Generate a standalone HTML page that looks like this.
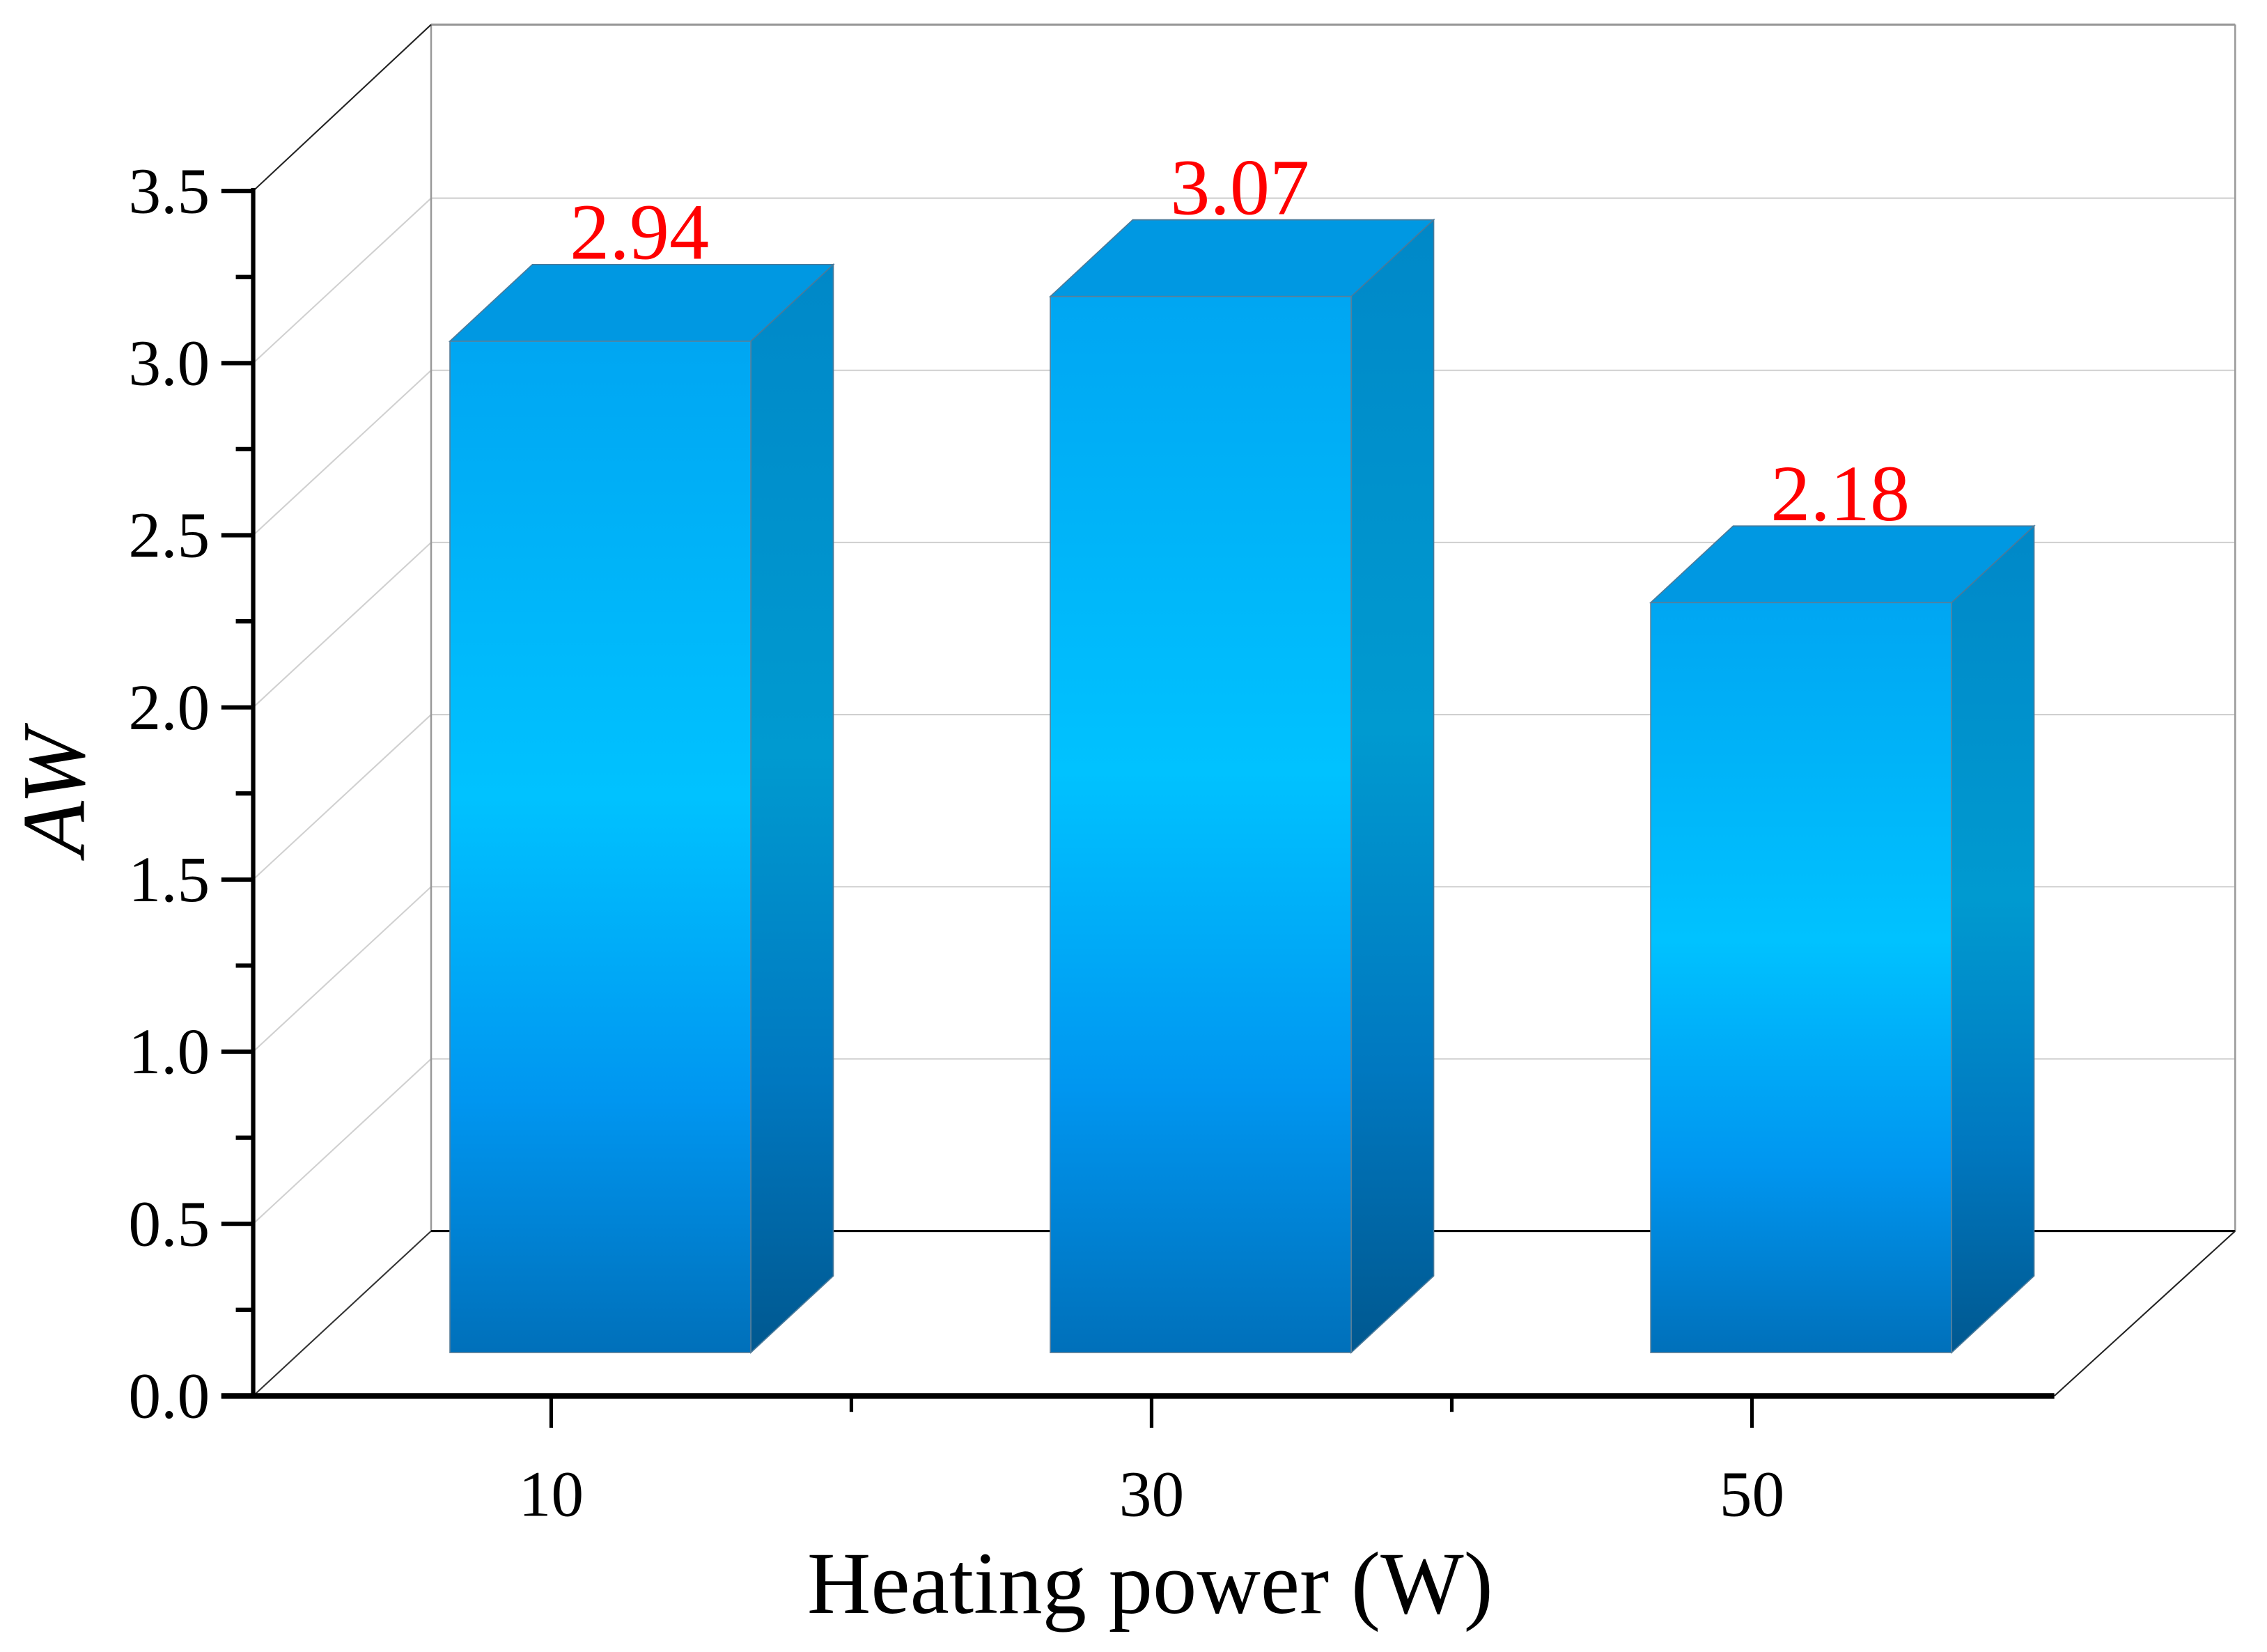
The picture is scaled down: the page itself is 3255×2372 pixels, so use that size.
<!DOCTYPE html>
<html><head><meta charset="utf-8"><style>html,body{margin:0;padding:0;background:#fff}svg{display:block}</style></head>
<body>
<svg id="chart" width="3255" height="2372" viewBox="0 0 1567 1142" preserveAspectRatio="none" xmlns="http://www.w3.org/2000/svg">
<defs>
<linearGradient id="gFront" x1="0" y1="0" x2="0" y2="1">
<stop offset="0" stop-color="#00a6f2"/><stop offset="0.45" stop-color="#00c2ff"/><stop offset="0.75" stop-color="#0096f0"/><stop offset="1" stop-color="#0070ba"/></linearGradient>
<linearGradient id="gSide" x1="0" y1="0" x2="0" y2="1">
<stop offset="0" stop-color="#0088c8"/><stop offset="0.45" stop-color="#009ad0"/><stop offset="0.75" stop-color="#0078c0"/><stop offset="1" stop-color="#005890"/></linearGradient>
</defs>
<g id="grid"></g>
<g id="frame"></g>
<g id="bars"></g>
<g id="labels"></g>
</svg>
<script>
const categories = ["10", "30", "50"];
const values = [2.94, 3.07, 2.18];
const valueLabels = ["2.94", "3.07", "2.18"];
const yTicks = [0, 0.5, 1.0, 1.5, 2.0, 2.5, 3.0, 3.5];
const yTickLabels = ["0.0", "0.5", "1.0", "1.5", "2.0", "2.5", "3.0", "3.5"];

const NS = "http://www.w3.org/2000/svg";
const yFront = v => 965 - v * 238;
const yBack = v => 851 - v * 238;
const yBar = v => 935 - v * 237.8;
const xCat = i => 381 + i * 415;
const BW = 208, DX = 57, DY = 53;
function mk(tag, attrs, parent) {
  const e = document.createElementNS(NS, tag);
  for (const k in attrs) e.setAttribute(k, attrs[k]);
  parent.appendChild(e); return e;
}
const grid = document.getElementById('grid');
const frame = document.getElementById('frame');
const bars = document.getElementById('bars');
const labels = document.getElementById('labels');

yTicks.forEach((v, i) => {
  if (v > 0 && v < 3.5) {
    const h = mk('line', {x1: 298, x2: 1545, y1: yBack(v), y2: yBack(v), stroke: '#cfcfcf', 'stroke-width': 1}, grid);
    
    
    const d = mk('line', {x1: 175, y1: yFront(v), x2: 298, y2: yBack(v), stroke: '#d0d0d0', 'stroke-width': 1}, grid);
    
    
  }
  const t = mk('line', {x1: 153, x2: 175, y1: yFront(v), y2: yFront(v), stroke: '#000', 'stroke-width': 3}, frame);
  
  
  const tl = mk('text', {x: 145, y: yFront(v) + 15, 'text-anchor': 'end', 'font-size': 45, 'font-family': '"Liberation Serif", serif', fill: '#000'}, labels);
  tl.textContent = yTickLabels[i];
  
  
  if (i < yTicks.length - 1) {
    const mv = v + 0.25;
    const m = mk('line', {x1: 163, x2: 175, y1: yFront(mv), y2: yFront(mv), stroke: '#000', 'stroke-width': 3}, frame);
    
    
  }
});
// frame
[[298,17,1545,17,'#999',1.5],[298,17,298,851,'#999',1.2],[1545,17,1545,851,'#999',1.2],[298,851,1545,851,'#000',1.5],
 [175,132,298,17,'#222',1],[175,965,298,851,'#333',1],[1420,965,1545,851,'#222',1],
 [175,130,175,967,'#000',3],[153,965,1420,965,'#000',4]].forEach(a => {
  const l = mk('line', {x1:a[0],y1:a[1],x2:a[2],y2:a[3],stroke:a[4],'stroke-width':a[5]}, frame);
  
  
});
categories.forEach((c, i) => {
  const x = xCat(i);
  const t = mk('line', {x1: x, x2: x, y1: 965, y2: 987, stroke: '#000', 'stroke-width': 2.5}, frame);
  
  
  if (i < categories.length - 1) {
    const m = mk('line', {x1: x + 207.5, x2: x + 207.5, y1: 965, y2: 976, stroke: '#000', 'stroke-width': 2.5}, frame);
    
    
  }
  const tl = mk('text', {x: x, y: 1048, 'text-anchor': 'middle', 'font-size': 45, 'font-family': '"Liberation Serif", serif'}, labels);
  tl.textContent = c;
  
  

  const x0 = x - 70, top = yBar(values[i]), bot = 935;
  const side = mk('polygon', {points: `${x0+BW},${top} ${x0+BW+DX},${top-DY} ${x0+BW+DX},${bot-DY} ${x0+BW},${bot}`, fill: 'url(#gSide)', stroke: '#4a7a9a', 'stroke-width': 0.8}, bars);
  
  
  const tp = mk('polygon', {points: `${x0},${top} ${x0+DX},${top-DY} ${x0+BW+DX},${top-DY} ${x0+BW},${top}`, fill: '#0098e2', stroke: '#4a7a9a', 'stroke-width': 0.8}, bars);
  
  
  const fr = mk('rect', {x: x0, y: top, width: BW, height: bot - top, fill: 'url(#gFront)', stroke: '#5a7f99', 'stroke-width': 0.8}, bars);
  
  
  const vl = mk('text', {x: x + 61, y: top - DY - 4, 'text-anchor': 'middle', 'font-size': 55, 'font-family': '"Liberation Serif", serif', fill: '#ff0000'}, labels);
  vl.textContent = valueLabels[i];
  
  
});
const xt = mk('text', {x: 795, y: 1115, 'text-anchor': 'middle', 'font-size': 61, 'font-family': '"Liberation Serif", serif'}, labels);
xt.textContent = 'Heating power (W)';


const yt = mk('text', {x: 0, y: 0, transform: 'translate(58,548) rotate(-90)', 'text-anchor': 'middle', 'font-size': 62, 'font-style': 'italic', 'font-family': '"Liberation Serif", serif'}, labels);
yt.textContent = 'AW';


</script>
</body></html>
